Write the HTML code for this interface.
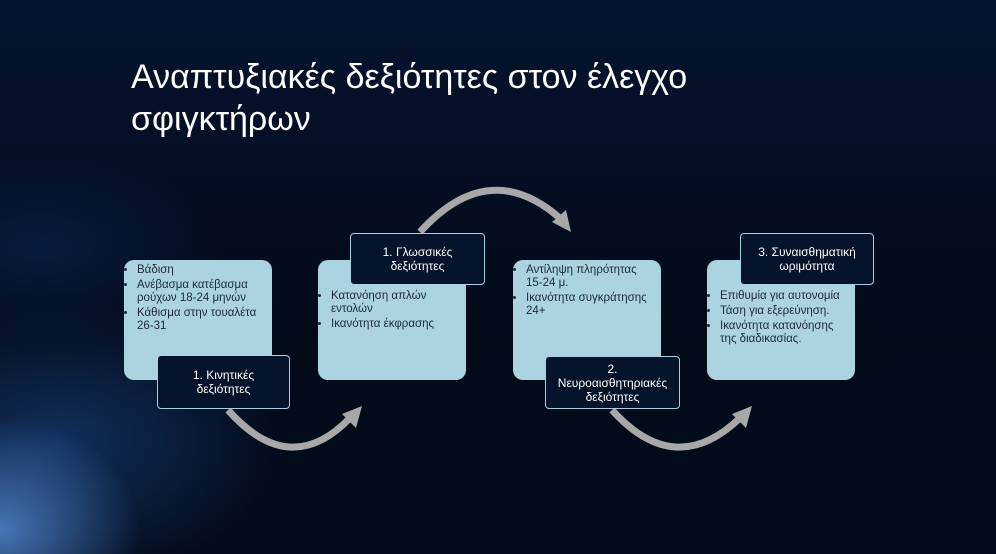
<!DOCTYPE html>
<html><head><meta charset="utf-8"><style>
body{margin:0;width:996px;height:554px;overflow:hidden;background:#030c1c;position:relative;font-family:"Liberation Sans","DejaVu Sans",sans-serif}
.bg{position:absolute;inset:0;background:
radial-gradient(ellipse 200px 160px at 0px 530px,rgba(90,150,230,.75),transparent 70%),
radial-gradient(ellipse 320px 200px at 60px 440px,rgba(40,100,190,.4),transparent 70%),
radial-gradient(ellipse 260px 140px at 40px 250px,rgba(20,60,130,.3),transparent 70%),
linear-gradient(180deg,#061430,#020a18 60%,#030c1c)}
.title{position:absolute;left:131px;top:56px;color:#fff;font-size:34px;line-height:42px}
.box{position:absolute;width:148px;height:120px;background:#abd4e0;border-radius:10px;top:260px;box-sizing:border-box;padding-right:12px}
.box ul{margin:0;padding:0 0 0 13px;font-size:11.5px;color:#1b2a38;line-height:13px}
.box li{margin-bottom:2px}
.lab{position:absolute;background:#05142a;border:1.5px solid #a8cfe0;border-radius:4px;color:#fff;font-size:12px;text-align:center;line-height:14px;display:flex;align-items:center;justify-content:center;box-sizing:border-box}
</style></head><body>
<div class="bg"></div>
<div class="title">Αναπτυξιακές δεξιότητες στον έλεγχο<br>σφιγκτήρων</div>
<svg style="position:absolute;left:0;top:0" width="996" height="554">
<g fill="none" stroke="#a8a8a8" stroke-width="7">
<path d="M228 410 Q290 480 350 418"/>
<path d="M420 232 Q490 155 562 220"/>
<path d="M612 410 Q675 480 740 418"/>
</g>
<g fill="#a8a8a8">
<polygon points="362,406 342,414 356,428"/>
<polygon points="571,232 552,222 566,210"/>
<polygon points="752,406 732,414 746,428"/>
</g>
</svg>
<div class="box" style="left:124px"><ul style="padding-top:4px"><li>Βάδιση</li><li>Ανέβασμα κατέβασμα ρούχων 18-24 μηνών</li><li>Κάθισμα στην τουαλέτα 26-31</li></ul></div>
<div class="box" style="left:318px"><ul style="padding-top:30px"><li>Κατανόηση απλών εντολών</li><li>Ικανότητα έκφρασης</li></ul></div>
<div class="box" style="left:513px"><ul style="padding-top:4px"><li>Αντίληψη πληρότητας 15-24 μ.</li><li>Ικανότητα συγκράτησης 24+</li></ul></div>
<div class="box" style="left:707px"><ul style="padding-top:30px"><li>Επιθυμία για αυτονομία</li><li>Τάση για εξερεύνηση.</li><li>Ικανότητα κατανόησης της διαδικασίας.</li></ul></div>
<div class="lab" style="left:157px;top:355px;width:133px;height:54px">1. Κινητικές<br>δεξιότητες</div>
<div class="lab" style="left:350px;top:233px;width:135px;height:52px">1. Γλωσσικές<br>δεξιότητες</div>
<div class="lab" style="left:545px;top:356px;width:135px;height:53px">2.<br>Νευροαισθητηριακές<br>δεξιότητες</div>
<div class="lab" style="left:740px;top:233px;width:134px;height:52px">3. Συναισθηματική<br>ωριμότητα</div>
</body></html>
